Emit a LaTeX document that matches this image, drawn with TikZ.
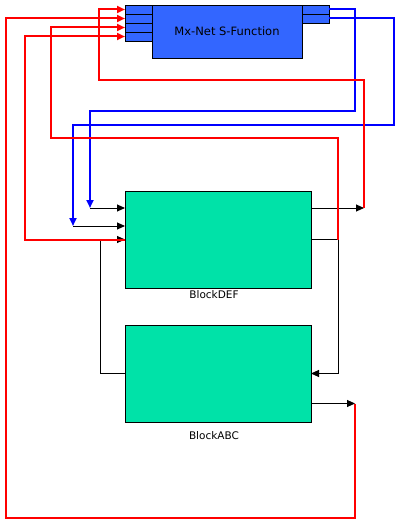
\documentclass[tikz,border=0pt]{standalone}
\usepackage{fontspec}
\setmainfont{DejaVu Sans}
\usetikzlibrary{arrows.meta}
\definecolor{sfblue}{RGB}{51,102,255}
\definecolor{blkgreen}{RGB}{0,226,168}
\definecolor{wirered}{RGB}{255,0,0}
\definecolor{wireblue}{RGB}{0,0,255}
\begin{document}
\begin{tikzpicture}[x=1pt,y=-1pt,
  box/.style={draw=black,line width=0.9pt,inner sep=0pt,outer sep=0pt},
  sfbox/.style={box,fill=sfblue},
  port/.style={sfbox,minimum width=27pt,minimum height=9pt},
  blk/.style={box,fill=blkgreen,minimum width=186pt,minimum height=97pt},
  lbl/.style={font=\fontsize{10.5}{12}\selectfont,inner sep=0pt},
  sig/.style={draw=black,line width=0.9pt},
  tip/.style={-{Triangle[length=8pt,width=7pt]}},
  redw/.style={draw=wirered,line width=2pt},
  bluew/.style={draw=wireblue,line width=2pt},
]
\useasboundingbox[fill=white] (0,0) rectangle (401,527);

% S-Function block and its ports
\node[sfbox,minimum width=150pt,minimum height=53pt,font=\fontsize{11.5}{13}\selectfont] (sf) at (227,31.5) {Mx-Net S-Function};
\node[port] (in1) at (138.5,9.5) {};
\node[port] (in2) at (138.5,18.5) {};
\node[port] (in3) at (138.5,27.5) {};
\node[port] (in4) at (138.5,36.5) {};
\node[port] (out1) at (315.5,9.5) {};
\node[port] (out2) at (315.5,18.5) {};

% blocks
\node[blk] (def) at (218,239.5) {};
\node[blk] (abc) at (218,373.5) {};
\node[lbl,anchor=north] (deflbl) at (214,290) {BlockDEF};
\node[lbl,anchor=north] (abclbl) at (214,431) {BlockABC};

% junction coordinates
\coordinate (d1) at (364,208);
\coordinate (a1) at (355,403.5);
\coordinate (j3) at (338,239.5);
\coordinate (j4) at (100,239.5);
\coordinate (b1) at (90,208);
\coordinate (b2) at (73,226);

% black signal lines
\draw[sig,tip] (def.east |- d1) -- (d1);
\draw[sig,tip] (abc.east |- a1) -- (a1);
\draw[sig] (def.east |- j3) -- (j3);
\draw[sig,tip] (j3) |- (abc.east);
\draw[sig] (abc.west) -| (j4);
\draw[sig,tip] (j4) -- (def.west);
\draw[sig,tip] (b1) -- (def.west |- b1);
\draw[sig,tip] (b2) -- (def.west |- b2);

% blue lines
\draw[bluew,tip] (out1.east) -- (355,9.5) -- (355,111) -- (90,111) -- (b1);
\draw[bluew,tip] (out2.east) -- (394,18.5) -- (394,125) -- (73,125) -- (b2);

% red lines
\draw[redw,tip] (d1) -- (364,80) -- (99,80) |- (in1.west);
\draw[redw,tip] (a1) -- (355,518) -- (6,518) |- (in2.west);
\draw[redw,tip] (j3) -- (338,138) -- (51,138) |- (in3.west);
\draw[redw,tip] (def.west) -- (25,239.5) |- (in4.west);
\end{tikzpicture}
\end{document}
